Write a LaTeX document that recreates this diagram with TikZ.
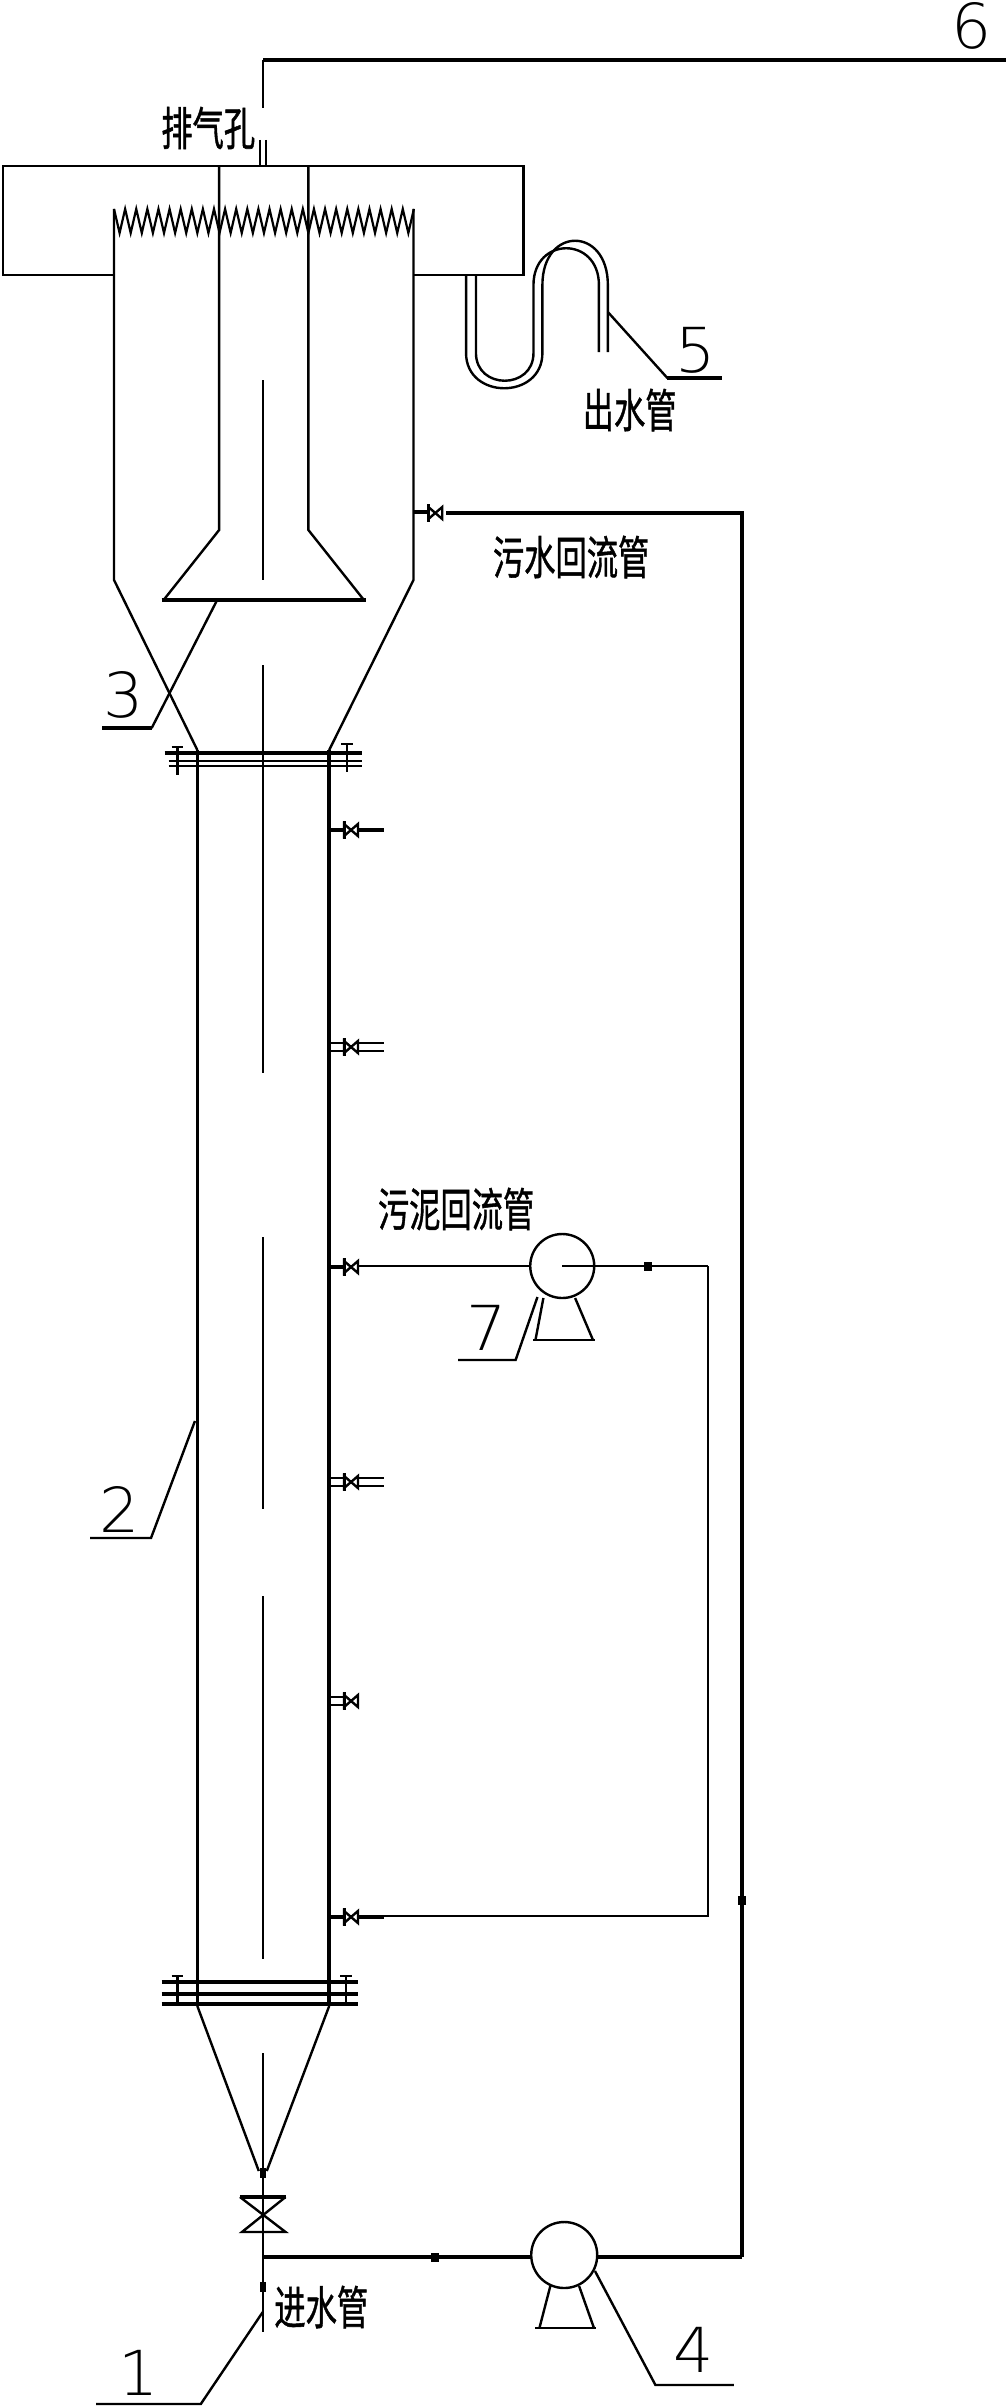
\documentclass[tikz,border=0pt]{standalone}
\usepackage{fontspec}
\newfontfamily\cjk[FakeBold=1.2]{Noto Sans CJK SC}
\newfontfamily\numf{DejaVu Sans ExtraLight}
\newcommand\cjklab[1]{\scalebox{.68}[1]{\cjk\fontsize{46}{46}\selectfont #1}}
\newcommand\numlab[1]{\scalebox{1.02}[1]{\numf\fontsize{62}{62}\selectfont #1}}
\tikzset{
  ln/.style={line width=2.4pt,line join=miter},
  fine/.style={line width=2.2pt},
  boxln/.style={line width=2.8pt},
  thickln/.style={line width=3.2pt},
  heavy/.style={line width=4pt},
  lab/.style={inner sep=0pt,outer sep=0pt,anchor=center},
  pumpnode/.style={draw,circle,line width=2.4pt,minimum size=64pt,inner sep=0pt,fill=white},
  blob/.style={fill=black,inner sep=0pt,outer sep=0pt,rectangle,minimum width=8pt,minimum height=9pt},
  sidevalve/.pic={
    \draw[line width=3pt] (0,-9) -- (0,9);
    \draw[ln] (0,-6) -- (14,6) -- (14,-6) -- (0,6) -- cycle;
  },
  boltT/.pic={
    \draw[line width=2.6pt] (-6,0) -- (6,0);
    \draw[ln] (0,0) -- (0,28);
  }
}
\begin{document}
\begin{tikzpicture}[x=0.9916pt,y=-1pt]
\useasboundingbox (0,0) rectangle (1014.5,2408);
% ---- gas line
\coordinate (g1) at (1014.5,60);
\coordinate (g2) at (265,60);
\coordinate (g3) at (265,108);
\draw[thickln] (g1) -- (g2);
\draw[ln] (g2) -- (g3);
\draw[ln] (262,140) -- (262,166) (268,140) -- (268,166);
% ---- upper box
\draw[boxln] (115,275) -- (3,275) -- (3,166) -- (528,166) -- (528,275) -- (417,275);
\draw[ln] (115,209) -- (115,580) -- (199,750);
\draw[ln] (417,209) -- (417,580) -- (332,750);
\draw[ln] (221,166) -- (221,530) -- (165,600);
\draw[ln] (311,166) -- (311,530) -- (367,600);
\draw[thickln] (163,600) -- (369,600);
% sawtooth
\draw[fine] (115,209) foreach \i in {1,...,27} { -- ++(5.6,24) -- ++(5.6,-24) };
% ---- centre line
\foreach \a/\b in {380/580,665/1073,1237/1509,1596/1959,2053/2332}
  \draw[ln] (265,\a) -- (265,\b);
% ---- outlet tube 5
\draw[ln] (470,275) -- (470,353) .. controls (470,400) and (547,400) .. (547,353)
  -- (547,285) .. controls (547,226) and (613,226) .. (613,285) -- (613,352);
\draw[ln] (480,275) -- (480,353) .. controls (480,390) and (538,390) .. (538,353)
  -- (538,285) .. controls (538,236) and (604,236) .. (604,285) -- (604,352);
% ---- column
\draw[line width=2.8pt] (199,750) -- (199,2006);
\draw[ln] (199,2006) -- (261,2171);
\draw[line width=3.6pt] (332,750) -- (332,2006);
\draw[ln] (332,2006) -- (269,2171);
% flanges
\draw[line width=3.2pt] (166,753) -- (365,753);
\draw[ln] (170,761) -- (365,761) (170,766) -- (365,766);
\pic at (179,747) {boltT};
\pic at (350,744) {boltT};
\draw[thickln] (163,1982) -- (361,1982) (163,1994) -- (361,1994) (163,2004) -- (361,2004);
\pic at (179,1976) {boltT};
\pic at (349,1976) {boltT};
% ---- side valves
\draw[heavy] (417,512) -- (432,512);
\pic at (432,513) {sidevalve};
\draw[heavy] (332,830) -- (347,830);
\pic at (347,830) {sidevalve};
\draw[heavy] (361,830) -- (387,830);
\draw[ln] (332,1043) -- (347,1043) (332,1051) -- (347,1051);
\pic at (347,1047) {sidevalve};
\draw[ln] (361,1043) -- (387,1043) (361,1051) -- (387,1051);
\draw[heavy] (332,1267) -- (347,1267);
\pic at (347,1267) {sidevalve};
\draw[ln] (332,1478) -- (347,1478) (332,1486) -- (347,1486);
\pic at (347,1482) {sidevalve};
\draw[ln] (361,1478) -- (387,1478) (361,1486) -- (387,1486);
\draw[ln] (332,1697) -- (347,1697) (332,1705) -- (347,1705);
\pic at (347,1701) {sidevalve};
\draw[heavy] (332,1917) -- (347,1917);
\pic at (347,1917) {sidevalve};
\draw[heavy] (361,1917) -- (387,1917);
% ---- sewage recycle
\coordinate (r1) at (450,513);
\coordinate (r2) at (748,513);
\coordinate (r3) at (748,2257);
\draw[line width=3.6pt] (r1) -- (r2) -- (r3);
\node[blob] (dotR) at (748,1900) {};
% ---- sludge recycle pump 7
\node[pumpnode] (pumpS) at (567,1266) {};
\coordinate (s1) at (361,1266);
\coordinate (s2) at (714,1266);
\coordinate (s3) at (714,1916);
\coordinate (s4) at (387,1916);
\draw[ln] (s1) -- (pumpS.west);
\draw[ln] (pumpS.center) -- (s2);
\draw[ln] (s2) -- (s3) -- (s4);
\node[blob] (dotS) at (653,1266) {};
\draw[ln] (548,1298) -- (540,1340) (580,1298) -- (598,1340);
\draw[boxln] (538,1340) -- (600,1340);
% ---- bottom valve and inlet
\draw[thickln] (242,2197) -- (288,2197);
\draw[ln] (288,2197) -- (244,2232) -- (288,2232) -- (242,2197);
\node[blob,minimum width=6pt,minimum height=10pt] (dotV) at (265,2173) {};
\node[blob,minimum width=6pt,minimum height=10pt] (dotI) at (265,2287) {};
% ---- feed pump 4
\node[pumpnode,minimum size=66pt] (pumpF) at (569,2255) {};
\coordinate (f1) at (265,2257);
\draw[thickln] (f1) -- (f1 -| pumpF.west);
\draw[thickln] (r3 -| pumpF.east) -- (r3);
\node[blob] (dotF) at (439,2257) {};
\draw[ln] (555,2286) -- (544,2328) (584,2286) -- (599,2328);
\draw[boxln] (540,2328) -- (601,2328);
% ---- leaders
\draw[ln] (613,312) -- (673,378);
\draw[thickln] (673,378) -- (728,378);
\draw[ln] (219,600) -- (153,728);
\draw[thickln] (153,728) -- (103,728);
\draw[ln] (196.6,1421) -- (152.3,1538) -- (90.8,1538);
\draw[ln] (542,1297) -- (520,1360) -- (462,1360);
\draw[ln] (600,2271) -- (661,2385) -- (740,2385);
\draw[ln] (265,2312) -- (202.5,2404) -- (97,2404);
% ---- numerals
\node[lab] (n6) at (980,26) {\numlab{6}};
\node[lab] (n5) at (702,350) {\numlab{5}};
\node[lab] (n3) at (125,695) {\numlab{3}};
\node[lab] (n2) at (120.5,1509) {\numlab{2}};
\node[lab] (n7) at (491,1328) {\numlab{7}};
\node[lab] (n1) at (140,2373) {\numlab{1}};
\node[lab] (n4) at (699,2350) {\numlab{4}};
% ---- texts
\node[lab] (t1) at (210,128) {\cjklab{排气孔}};
\node[lab] (t2) at (635,410) {\cjklab{出水管}};
\node[lab] (t3) at (576,557) {\cjklab{污水回流管}};
\node[lab] (t4) at (460,1209) {\cjklab{污泥回流管}};
\node[lab] (t5) at (324,2307) {\cjklab{进水管}};
\end{tikzpicture}
\end{document}
